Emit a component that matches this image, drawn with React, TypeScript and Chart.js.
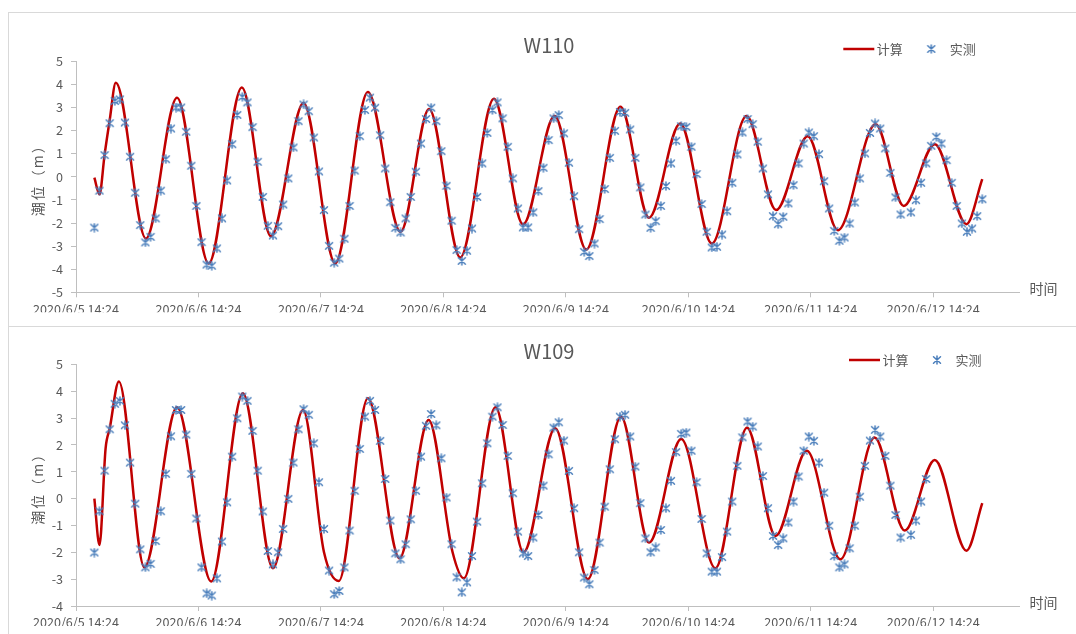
import React, { useEffect, useRef } from 'react';
import { Chart, registerables } from 'chart.js';

Chart.register(...registerables);

// ---------- axis data ----------
const tickHours = [0, 24, 48, 72, 96, 120, 144, 168];
const tickLabels = [
  '2020/6/5 14:24',
  '2020/6/6 14:24',
  '2020/6/7 14:24',
  '2020/6/8 14:24',
  '2020/6/9 14:24',
  '2020/6/10 14:24',
  '2020/6/11 14:24',
  '2020/6/12 14:24',
];
const axisMaxHour = 184.8;
// first hourly observation: 2020/6/5 18:00 (3.6 h after 14:24)
const obsStartHour = 3.6;

const legendCalc = '计算';
const legendObs = '实测';
const yTitle = '潮位（m）';
const xTitle = '时间';

// ---------- W110 ----------
const w110Observed: (number | null)[] = [
  -2.2, -0.6, 0.94, 2.32, 3.28, 3.35, 2.35, 0.87, -0.69, -2.09,
  -2.84, -2.6, -1.8, -0.6, 0.76, 2.09, 3.0, 3.0, 1.95, 0.48,
  -1.26, -2.83, -3.8, -3.85, -3.1, -1.8, -0.16, 1.41, 2.68, 3.46,
  3.22, 2.15, 0.65, -0.87, -2.12, -2.54, -2.14, -1.2, -0.07, 1.27,
  2.41, 3.13, 2.84, 1.7, 0.23, -1.44, -2.99, -3.72, -3.54, -2.68,
  -1.26, 0.27, 1.76, 2.89, 3.43, 2.99, 1.8, 0.36, -1.1, -2.21,
  -2.41, -1.8, -0.87, 0.22, 1.44, 2.5, 2.99, 2.41, 1.11, -0.39,
  -1.9, -3.17, -3.64, -3.2, -2.24, -0.87, 0.58, 1.9, 2.89, 3.22,
  2.53, 1.3, -0.07, -1.37, -2.19, -2.19, -1.54, -0.62, 0.39, 1.59,
  2.53, 2.67, 1.88, 0.61, -0.84, -2.27, -3.25, -3.43, -2.89, -1.83,
  -0.53, 0.82, 1.99, 2.81, 2.77, 2.05, 0.82, -0.46, -1.63, -2.21,
  -1.92, -1.26, -0.4, 0.58, 1.56, 2.19, 2.16, 1.3, 0.12, -1.18,
  -2.38, -3.06, -3.03, -2.5, -1.49, -0.26, 0.97, 1.92, 2.5, 2.28,
  1.52, 0.36, -0.76, -1.7, -2.05, -1.73, -1.15, -0.36, 0.58, 1.44,
  1.92, 1.76, 0.98, -0.19, -1.37, -2.34, -2.77, -2.63, -2.02, -1.11,
  -0.07, 1.01, 1.9, 2.31, 2.09, 1.23, 0.17, -0.89, -1.63, null,
  -1.54, -1.01, -0.26, 0.58, 1.34, 1.73, 1.44, 0.72, -0.26, -1.26,
  -2.02, -2.38, -2.24, -1.7, -0.97,
];
// hours after 2020/6/5 18:00
const w110CalcHours = [
  0, 1, 2, 3, 4.2, 10.1, 16.2, 22.4, 28.9, 34.6, 41, 47.2, 53.6, 60, 65.6,
  71.7, 78.3, 84, 90.2, 96.4, 103.1, 108.7, 114.8, 121, 127.8, 133.6, 139.8,
  145.7, 153.1, 158.6, 164.7, 170.9, 174,
];
const w110CalcValues = [
  -0.04, -0.76, 0.95, 2.45, 4.07, -2.67, 3.42, -3.75, 3.87, -2.57, 3.2, -3.75,
  3.67, -2.38, 2.93, -3.49, 3.38, -2.06, 2.63, -3.15, 3.03, -1.77, 2.31, -2.89,
  2.63, -1.44, 1.76, -2.31, 2.27, -1.26, 1.41, -2.05, -0.1,
];

// ---------- W109 ----------
const w109Observed: (number | null)[] = [
  -2.01, -0.47, 1.04, 2.58, 3.53, 3.64, 2.73, 1.34, -0.19, -1.89,
  -2.56, -2.43, -1.58, -0.47, 0.92, 2.32, 3.3, 3.3, 2.38, 0.92,
  -0.74, -2.56, -3.53, -3.61, -2.97, -1.6, -0.14, 1.56, 2.99, 3.8,
  3.64, 2.52, 1.04, -0.48, -1.95, -2.45, -2.0, -1.13, -0.01, 1.34,
  2.58, 3.33, 3.12, 2.06, 0.61, -1.13, -2.68, -3.56, -3.44, -2.56,
  -1.19, 0.29, 1.85, 3.05, 3.64, 3.3, 2.15, 0.73, -0.82, -2.04,
  -2.26, -1.7, -0.77, 0.29, 1.56, 2.71, 3.15, 2.73, 1.5, 0.04,
  -1.7, -2.93, -3.49, -3.12, -2.14, -0.86, 0.57, 2.06, 3.05, 3.4,
  2.74, 1.59, 0.2, -1.23, -2.04, -2.14, -1.45, -0.61, 0.48, 1.65,
  2.64, 2.84, 2.16, 1.03, -0.36, -2.0, -2.94, -3.19, -2.66, -1.64,
  -0.3, 1.09, 2.21, 3.05, 3.12, 2.31, 1.19, -0.17, -1.48, -2.0,
  -1.82, -1.17, -0.36, 0.66, 1.73, 2.41, 2.46, 1.78, 0.61, -0.76,
  -2.04, -2.72, -2.72, -2.18, -1.23, -0.11, 1.22, 2.28, 2.87, 2.68,
  1.94, 0.84, -0.36, -1.39, -1.73, -1.48, -0.89, -0.11, 0.82, 1.78,
  2.31, 2.15, 1.34, 0.22, -1.01, -2.14, -2.56, -2.45, -1.85, -1.01,
  0.07, 1.22, 2.16, 2.56, 2.31, 1.59, 0.48, -0.61, -1.45, null,
  -1.35, -0.82, -0.11, 0.73,
];
const w109CalcHours = [
  0, 1, 2.2, 3, 4.8, 9.8, 16.2, 22.9, 29.1, 35, 40.9, 45, 47.9, 53.6, 59.8,
  65.5, 70.2, 72.4, 78.6, 84.1, 90.3, 96.7, 103.2, 108.7, 115, 121.7, 127.9,
  133.5, 139.6, 146.2, 152.9, 158.8, 164.7, 170.9, 174,
];
const w109CalcValues = [
  0, -1.73, 1.87, 2.6, 4.36, -2.56, 3.4, -3.09, 3.92, -2.59, 3.3, -2.0, -3.07,
  3.74, -2.22, 2.93, -2.0, -2.97, 3.4, -2.0, 2.62, -3.0, 3.05, -1.64, 2.22,
  -2.59, 2.64, -1.39, 1.78, -2.26, 2.27, -1.19, 1.44, -1.94, -0.17,
];

// ---------- styling ----------
const RED = '#C00000';
const BLUE = '#4a7ebb';
const TEXT = '#595959';
const AXIS = '#bfbfbf';
const FONT = '"Noto Sans CJK SC", "Noto Sans", sans-serif';

function makeStar(): HTMLCanvasElement {
  const c = document.createElement('canvas');
  c.width = 10;
  c.height = 10;
  const g = c.getContext('2d')!;
  g.strokeStyle = BLUE;
  g.lineWidth = 1.5;
  g.lineCap = 'round';
  g.beginPath();
  g.moveTo(1.5, 1.8);
  g.lineTo(8.5, 8.2);
  g.moveTo(8.5, 1.8);
  g.lineTo(1.5, 8.2);
  g.moveTo(5, 1);
  g.lineTo(5, 9);
  g.stroke();
  return c;
}

type Spec = {
  title: string;
  observed: (number | null)[];
  calcHours: number[];
  calcValues: number[];
  yMin: number;
  yMax: number;
  pageTop: number;
  height: number;
  areaTop: number;
  areaBottom: number;
  titleY: number;
  legendY: number;
  legendX: number;
  timeY: number;
};

const CANVAS_W = 1068;
const AREA_LEFT = 68;
const AREA_RIGHT = 1011;
const X_AXIS_H = 20;

function TideChart({ spec }: { spec: Spec }) {
  const ref = useRef<HTMLCanvasElement | null>(null);

  useEffect(() => {
    if (!ref.current) return;
    const star = makeStar();

    const decor = {
      id: 'decor',
      afterDraw(chart: any) {
        const ctx = chart.ctx as CanvasRenderingContext2D;
        const area = chart.chartArea;
        ctx.save();
        ctx.fillStyle = TEXT;
        // title
        ctx.font = `20px ${FONT}`;
        ctx.textAlign = 'center';
        ctx.textBaseline = 'middle';
        ctx.fillText(spec.title, 541, spec.titleY);
        // legend
        const lx = spec.legendX;
        ctx.strokeStyle = RED;
        ctx.lineWidth = 2.5;
        ctx.beginPath();
        ctx.moveTo(lx, spec.legendY);
        ctx.lineTo(lx + 31, spec.legendY);
        ctx.stroke();
        ctx.font = `13px ${FONT}`;
        ctx.textAlign = 'left';
        ctx.fillText(legendCalc, lx + 33.5, spec.legendY + 0.5);
        ctx.drawImage(star, lx + 88 - 5, spec.legendY - 5);
        ctx.fillText(legendObs, lx + 106.5, spec.legendY + 0.5);
        // x title
        ctx.font = `14px ${FONT}`;
        ctx.textAlign = 'center';
        ctx.fillText(xTitle, 1035.5, spec.timeY);
        // y title
        ctx.translate(30, (area.top + area.bottom) / 2);
        ctx.rotate(-Math.PI / 2);
        (ctx as any).letterSpacing = '2px';
        ctx.fillText(yTitle, 0, 0);
        ctx.restore();
      },
    };

    const chart = new Chart(ref.current, {
      type: 'line',
      data: {
        datasets: [
          {
            label: legendCalc,
            data: spec.calcHours.map((h, i) => ({ x: obsStartHour + h, y: spec.calcValues[i] })),
            borderColor: RED,
            borderWidth: 2.5,
            pointRadius: 0,
            cubicInterpolationMode: 'monotone',
            fill: false,
            order: 2,
          },
          {
            label: legendObs,
            data: spec.observed.map((v, i) => ({ x: obsStartHour + i, y: v })),
            showLine: false,
            pointStyle: star,
            pointRadius: 5,
            borderColor: BLUE,
            backgroundColor: BLUE,
            order: 1,
          },
        ] as any,
      },
      options: {
        animation: false,
        responsive: false,
        maintainAspectRatio: false,
        events: [],
        layout: {
          padding: {
            left: 0,
            right: CANVAS_W - AREA_RIGHT,
            top: spec.areaTop,
            bottom: spec.height - spec.areaBottom - X_AXIS_H,
          },
        },
        plugins: {
          legend: { display: false },
          title: { display: false },
          tooltip: { enabled: false },
        },
        scales: {
          x: {
            type: 'linear',
            min: 0,
            max: axisMaxHour,
            afterFit: (s: any) => {
              s.height = X_AXIS_H;
            },
            afterBuildTicks: (s: any) => {
              s.ticks = tickHours.map((v) => ({ value: v }));
            },
            grid: {
              drawOnChartArea: false,
              drawTicks: true,
              tickLength: 5,
              color: AXIS,
            },
            border: { display: true, color: AXIS, width: 1 },
            ticks: {
              autoSkip: false,
              maxRotation: 0,
              padding: 4,
              color: TEXT,
              font: { family: FONT, size: 12.6 },
              callback: (v: any) => {
                const k = tickHours.indexOf(Number(v));
                return k >= 0 ? tickLabels[k] : '';
              },
            },
          },
          y: {
            min: spec.yMin,
            max: spec.yMax,
            afterFit: (s: any) => {
              s.width = AREA_LEFT;
            },
            grid: {
              drawOnChartArea: false,
              drawTicks: true,
              tickLength: 5,
              color: AXIS,
            },
            border: { display: true, color: AXIS, width: 1 },
            ticks: {
              stepSize: 1,
              padding: 8,
              color: TEXT,
              font: { family: FONT, size: 12.6 },
            },
          },
        },
      } as any,
      plugins: [decor as any],
    });
    return () => chart.destroy();
  }, [spec]);

  return (
    <canvas
      ref={ref}
      width={CANVAS_W}
      height={spec.height}
      style={{
        position: 'absolute',
        left: 8,
        top: spec.pageTop,
        width: CANVAS_W,
        height: spec.height,
      }}
    />
  );
}

const specW110: Spec = {
  title: 'W110',
  observed: w110Observed,
  calcHours: w110CalcHours,
  calcValues: w110CalcValues,
  yMin: -5,
  yMax: 5,
  pageTop: 12,
  height: 314,
  areaTop: 49.3,
  areaBottom: 280.3,
  titleY: 33,
  legendY: 37,
  legendX: 835.3,
  timeY: 277,
};

const specW109: Spec = {
  title: 'W109',
  observed: w109Observed,
  calcHours: w109CalcHours,
  calcValues: w109CalcValues,
  yMin: -4,
  yMax: 5,
  pageTop: 326,
  height: 308,
  areaTop: 38.3,
  areaBottom: 280,
  titleY: 25.5,
  legendY: 34,
  legendX: 841,
  timeY: 276.5,
};

export default function App() {
  return (
    <div
      style={{
        position: 'fixed',
        left: 0,
        top: 0,
        width: 1076,
        height: 634,
        overflow: 'hidden',
        background: '#ffffff',
      }}
    >
      <div
        style={{
          position: 'absolute',
          left: 8,
          top: 12,
          width: 1080,
          height: 315,
          boxSizing: 'border-box',
          border: '1px solid #d9d9d9',
        }}
      />
      <div
        style={{
          position: 'absolute',
          left: 8,
          top: 326,
          width: 1080,
          height: 330,
          boxSizing: 'border-box',
          border: '1px solid #d9d9d9',
        }}
      />
      <TideChart spec={specW110} />
      <TideChart spec={specW109} />
    </div>
  );
}
